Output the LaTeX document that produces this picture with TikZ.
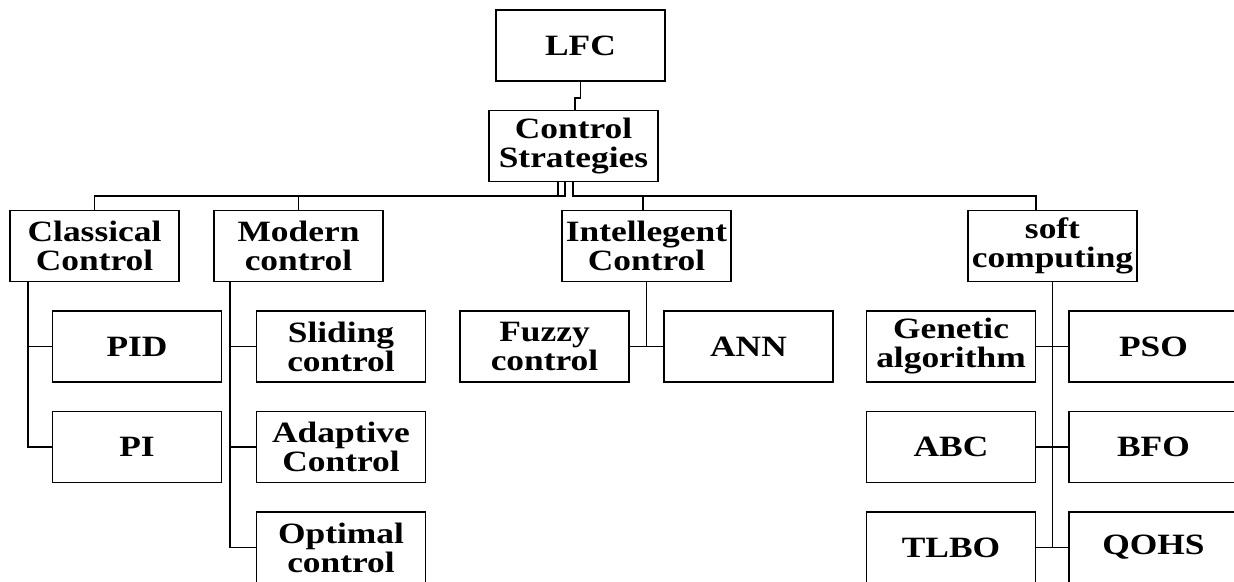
\documentclass[tikz,border=0pt]{standalone}
\usepackage{fontspec}
\setmainfont{Liberation Serif}[FakeStretch=1.2]
\begin{document}
\begin{tikzpicture}[x=1pt, y=-1pt,
    every node/.style={draw, line width=1.9pt, minimum width=169pt, minimum height=71pt, inner sep=0pt, align=center, font=\bfseries\fontsize{29.5}{29}\selectfont},
    link/.style={line width=1.7pt}]
        \useasboundingbox (0,0) rectangle (1234,581);

        % Root and strategies
        \node (lfc) at (580.5, 45.5) {LFC};
        \node (cs) at (573.5, 146) {Control\\Strategies};

        % Main branches
        \node (cls) at (94.5, 246) {Classical\\Control};
        \node (mod) at (298.5, 246) {Modern\\control};
        \node (ic) at (646.5, 246) {Intellegent\\Control};
        \node (sc) at (1052.5, 246) {soft\\computing};

        % Classical leaves
        \node (pid) at (137, 346.5) {PID};
        \node (pi) at (137, 447) {PI};

        % Modern leaves
        \node (sld) at (341, 346.5) {Sliding\\control};
        \node (adp) at (341, 447) {Adaptive\\Control};
        \node (opt) at (341, 547.5) {Optimal\\control};

        % Intelligent leaves
        \node (fz) at (544.5, 346.5) {Fuzzy\\control};
        \node (ann) at (748.5, 346.5) {ANN};

        % Soft computing leaves
        \node (ga) at (951, 346.5) {Genetic\\algorithm};
        \node (pso) at (1153.5, 346.5) {PSO};
        \node (abc) at (951, 447) {ABC};
        \node (bfo) at (1153.5, 447) {BFO};
        \node (tlbo) at (951, 547.5) {TLBO};
        \node (qohs) at (1153.5, 547.5) {QOHS};

        \coordinate (bus) at (0, 196);

        \draw[link] (lfc.south) -- ++(0,16) -| ([xshift=1.5pt]cs.north);

        \draw[link] ([xshift=-15.5pt]cs.south) |- (bus -| cls.north) -- (cls.north);
        \draw[link] ([xshift=-8.5pt]cs.south) |- (bus -| mod.north) -- (mod.north);
        \draw[link] ([xshift=-0.5pt]cs.south) |- ([xshift=-16.5pt]bus -| sc.north) -- ([xshift=-16.5pt]sc.north);
        \draw[link] ([xshift=-3.5pt]bus -| ic.north) -- ([xshift=-3.5pt]ic.north);

        \draw[link] ([xshift=19pt]cls.south west) |- (pid.west);
        \draw[link] ([xshift=19pt]cls.south west) |- (pi.west);

        \draw[link] ([xshift=17pt]mod.south west) |- (sld.west);
        \draw[link] ([xshift=17pt]mod.south west) |- (adp.west);
        \draw[link] ([xshift=17pt]mod.south west) |- (opt.west);

        \draw[link] (ic.south) |- (fz.east);
        \draw[link] (ic.south) |- (ann.west);

        \draw[link] (sc.south) |- (tlbo.east);
        \draw[link] (sc.south) |- (qohs.west);
        \draw[link] (ga.east) -- (pso.west);
        \draw[link] (abc.east) -- (bfo.west);
    \end{tikzpicture}
\end{document}
